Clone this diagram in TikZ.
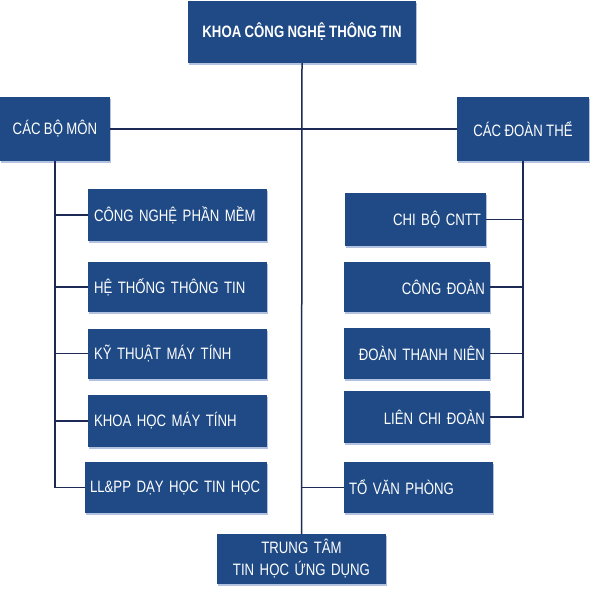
\documentclass[tikz,border=0pt]{standalone}
\usepackage{fontspec}
\newfontfamily\unitfont[FakeStretch=0.8]{Liberation Sans}
\newcommand{\unitsize}{\fontsize{16.5}{22}\selectfont\spaceskip=3.4pt plus 1pt minus 0.5pt}
\definecolor{unitblue}{HTML}{1F4A85}
\definecolor{linknavy}{HTML}{1C2A55}
\definecolor{shadeblue}{HTML}{B4C2E2}
\usetikzlibrary{positioning, shadows}

\begin{document}
\begin{tikzpicture}[x=1pt, y=-1pt, every node/.append style={shape=rectangle, fill=unitblue, text=white, inner sep=0pt, font=\unitfont\unitsize, drop shadow={shadow xshift=0.6pt, shadow yshift=-2pt, fill=shadeblue, opacity=1}}, link/.style={draw=linknavy, line width=1.5pt}]
	\useasboundingbox (0,0) rectangle (601,601);
	% top level
	\node[minimum width=228pt, minimum height=62pt, font=\unitfont\bfseries\unitsize] at (302, 32) (khoa){KHOA CÔNG NGHỆ THÔNG TIN};
	\node[minimum width=110pt, minimum height=64pt] at (55, 129) (bomon){CÁC BỘ MÔN};
	\node[minimum width=132pt, minimum height=64pt] at (523, 129) (doanthe){CÁC ĐOÀN THỂ};
	% bo mon
	\node[text width=167pt, inner xsep=6pt, align=left, minimum height=52pt] at (177.5, 215) (cnpm){CÔNG NGHỆ PHẦN MỀM};
	\node[text width=167pt, inner xsep=6pt, align=left, minimum height=50pt] at (177.5, 287) (httt){HỆ THỐNG THÔNG TIN};
	\node[text width=167pt, inner xsep=6pt, align=left, minimum height=50pt] at (177.5, 353.5) (ktmt){KỸ THUẬT MÁY TÍNH};
	\node[text width=167pt, inner xsep=6pt, align=left, minimum height=52pt] at (177.5, 421) (khmt){KHOA HỌC MÁY TÍNH};
	\node[text width=172pt, inner xsep=5pt, align=left, minimum height=51pt] at (176, 487.5) (llpp){LL\&PP DẠY HỌC TIN HỌC};
	% doan the
	\node[text width=131pt, inner xsep=5pt, align=right, minimum height=53pt] at (415.5, 219.5) (chibo){CHI BỘ CNTT};
	\node[text width=136pt, inner xsep=5pt, align=right, minimum height=50pt] at (417, 287) (congdoan){CÔNG ĐOÀN};
	\node[text width=136pt, inner xsep=5pt, align=right, minimum height=51pt] at (417, 353.5) (dtn){ĐOÀN THANH NIÊN};
	\node[text width=136pt, inner xsep=5pt, align=right, minimum height=52pt] at (417, 417) (lcd){LIÊN CHI ĐOÀN};
	% truc giua
	\node[text width=139pt, inner xsep=5pt, align=left, minimum height=51pt] at (418.5, 487.5) (tvp){TỔ VĂN PHÒNG};
	\node[text width=169pt, align=center, minimum height=50pt] at (301.5, 559) (ttud){TRUNG TÂM\\TIN HỌC ỨNG DỤNG};
		\draw[link] (bomon.east) -- (doanthe.west);
		\draw[link] (khoa.south) -- (ttud.north);
		\draw[link] (khoa.south |- tvp.west) -- (tvp.west);
		\foreach \n in {cnpm,httt,ktmt,khmt,llpp}
			\draw[link] (bomon.south) |- (\n.west);
		\foreach \n in {chibo,congdoan,dtn,lcd}
			\draw[link] (doanthe.south) |- (\n.east);
\end{tikzpicture}
\end{document}
